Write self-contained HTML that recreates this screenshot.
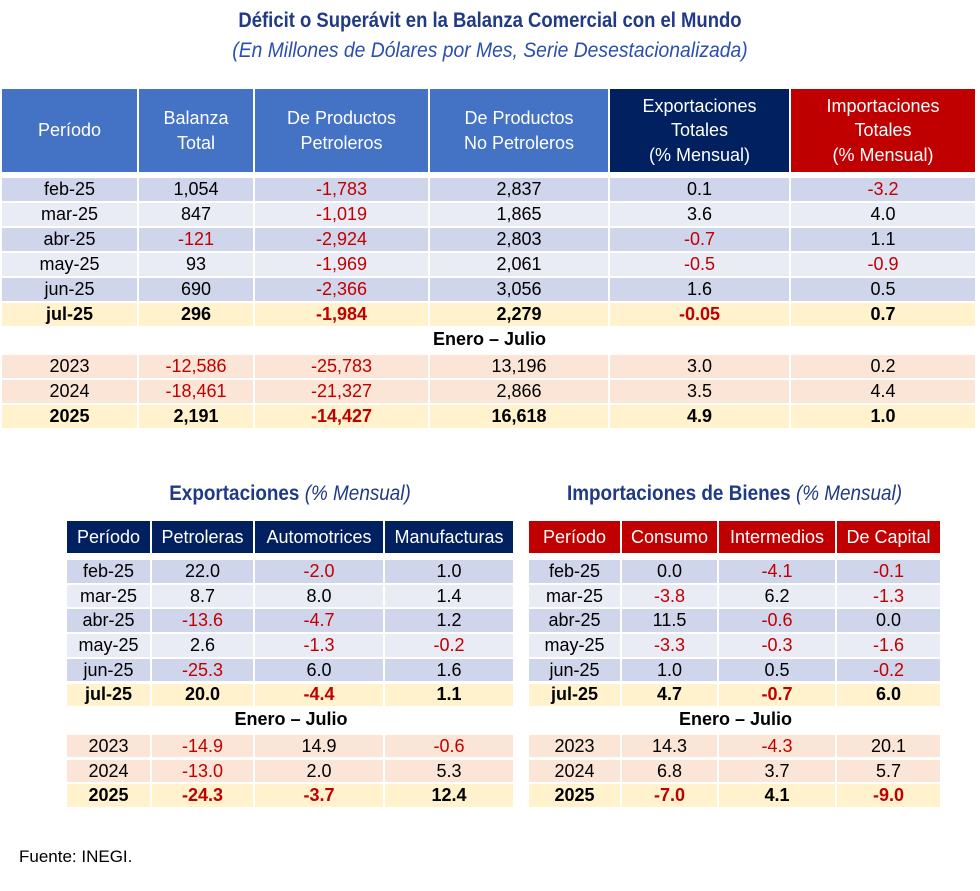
<!DOCTYPE html>
<html><head><meta charset="utf-8">
<style>
body{margin:0;width:980px;height:891px;background:#fff;position:relative;overflow:hidden;font-family:"Liberation Sans Narrow","Liberation Sans",sans-serif;}
.c{position:absolute;display:flex;align-items:center;justify-content:center;text-align:center;font-size:18px;color:#000;line-height:1.15;}
.h{line-height:1.35;}
.n{color:#c00000}
.b{font-weight:bold}
.t{position:absolute;left:0;width:980px;text-align:center;color:#1f3a8a;}
</style></head><body>
<div class="t" style="top:9px;font-size:21px;font-weight:bold;color:#203a86;transform:scaleX(0.88)">Déficit o Superávit en la Balanza Comercial con el Mundo</div>
<div class="t" style="top:39px;font-size:21px;font-style:italic;color:#2a4fb0;transform:scaleX(0.92)">(En Millones de Dólares por Mes, Serie Desestacionalizada)</div>
<div class="t" style="left:67px;width:446px;top:482px;font-size:21px;color:#203a86;transform:scaleX(0.9)"><b>Exportaciones</b> <i>(% Mensual)</i></div>
<div class="t" style="left:529px;width:411px;top:482px;font-size:21px;color:#203a86;transform:scaleX(0.9)"><b>Importaciones de Bienes</b> <i>(% Mensual)</i></div>
<div style="position:absolute;left:19px;top:847px;font-family:'Liberation Sans',sans-serif;font-size:17px">Fuente: INEGI.</div>
<div id="root"></div>
<script>
const periods=["feb-25","mar-25","abr-25","may-25","jun-25","jul-25"];
const years=["2023","2024","2025"];
const mainHead=["Período","Balanza<br>Total","De Productos<br>Petroleros","De Productos<br>No Petroleros","Exportaciones<br>Totales<br>(% Mensual)","Importaciones<br>Totales<br>(% Mensual)"];
const mainMonthly=[["1,054","-1,783","2,837","0.1","-3.2"],["847","-1,019","1,865","3.6","4.0"],["-121","-2,924","2,803","-0.7","1.1"],["93","-1,969","2,061","-0.5","-0.9"],["690","-2,366","3,056","1.6","0.5"],["296","-1,984","2,279","-0.05","0.7"]];
const mainYearly=[["-12,586","-25,783","13,196","3.0","0.2"],["-18,461","-21,327","2,866","3.5","4.4"],["2,191","-14,427","16,618","4.9","1.0"]];
const expHead=["Período","Petroleras","Automotrices","Manufacturas"];
const expMonthly=[["22.0","-2.0","1.0"],["8.7","8.0","1.4"],["-13.6","-4.7","1.2"],["2.6","-1.3","-0.2"],["-25.3","6.0","1.6"],["20.0","-4.4","1.1"]];
const expYearly=[["-14.9","14.9","-0.6"],["-13.0","2.0","5.3"],["-24.3","-3.7","12.4"]];
const impHead=["Período","Consumo","Intermedios","De Capital"];
const impMonthly=[["0.0","-4.1","-0.1"],["-3.8","6.2","-1.3"],["11.5","-0.6","0.0"],["-3.3","-0.3","-1.6"],["1.0","0.5","-0.2"],["4.7","-0.7","6.0"]];
const impYearly=[["14.3","-4.3","20.1"],["6.8","3.7","5.7"],["-7.0","4.1","-9.0"]];
const root=document.getElementById('root');
function cell(x,y,w,h,html,bg,cls,name,color){
 const d=document.createElement('div');
 d.className='c '+(cls||'');
 d.style.cssText=`left:${x}px;top:${y}px;width:${w}px;height:${h}px;background:${bg};`+(color?`color:${color};`:'');
 d.innerHTML=html;
 
 
 root.appendChild(d);
}
function table(o){
 const xs=o.xs;
 o.head.forEach((h,i)=>cell(xs[i],o.hy,xs[i+1]-xs[i]-2,o.hh,h,o.hbg[i],'h',o.id+'-header-'+i,'#fff'));
 periods.forEach((p,r)=>{
  const y=o.y0+r*o.pitch;
  const bg=r==5?'#fff2cc':(r%2==0?'#cfd5ea':'#e9ebf5');
  const b=r==5?'b':'';
  cell(xs[0],y,xs[1]-xs[0]-2,o.rh,p,bg,b,o.id+'-period-'+p);
  o.monthly[r].forEach((v,i)=>cell(xs[i+1],y,xs[i+2]-xs[i+1]-2,o.rh,v,bg,b+(v[0]=='-'?' n':''),o.id+'-cell-'+p+'-'+i));
 });
 const ey=o.y0+6*o.pitch;
 cell(xs[0],ey,xs[xs.length-1]-xs[0],o.rh,'Enero – Julio','transparent','b',o.id+'-ytd-label');
 years.forEach((p,r)=>{
  const y=ey+o.pitch+r*o.pitch+2;
  const bg=r==2?'#fff2cc':'#fbe5d6';
  const b=r==2?'b':'';
  cell(xs[0],y,xs[1]-xs[0]-2,o.rh,p,bg,b,o.id+'-year-'+p);
  o.yearly[r].forEach((v,i)=>cell(xs[i+1],y,xs[i+2]-xs[i+1]-2,o.rh,v,bg,b+(v[0]=='-'?' n':''),o.id+'-cell-'+p+'-'+i));
 });
}
table({id:'main',xs:[2,139,255,430,610,791,977],hy:89,hh:83,head:mainHead,hbg:['#4472c4','#4472c4','#4472c4','#4472c4','#002060','#c00000'],y0:178,pitch:25,rh:23,monthly:mainMonthly,yearly:mainYearly});
table({id:'exports',xs:[67,152,255,385,515],hy:521,hh:32,head:expHead,hbg:['#002060','#002060','#002060','#002060'],y0:560,pitch:24.7,rh:22.5,monthly:expMonthly,yearly:expYearly});
table({id:'imports',xs:[529,622,719,837,942],hy:521,hh:32,head:impHead,hbg:['#c00000','#c00000','#c00000','#c00000'],y0:560,pitch:24.7,rh:22.5,monthly:impMonthly,yearly:impYearly});
</script>
</body></html>
